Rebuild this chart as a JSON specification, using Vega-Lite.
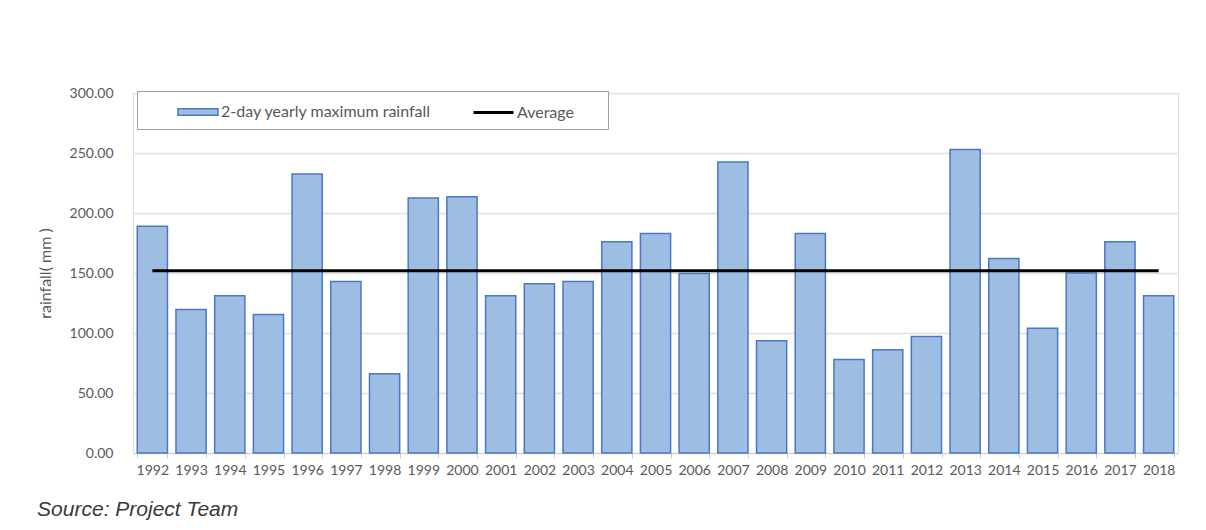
{
  "$schema": "https://vega.github.io/schema/vega-lite/v6.json",
  "autosize": {"type": "none"},
  "width": 1045,
  "height": 360,
  "padding": {"left": 133, "top": 93, "right": 28, "bottom": 77},
  "background": "white",
  "title": {
    "text": "Source: Project Team",
    "orient": "bottom",
    "anchor": "start",
    "frame": "bounds",
    "font": "Liberation Sans",
    "fontStyle": "italic",
    "fontWeight": "normal",
    "fontSize": 21,
    "color": "#3a3a3a",
    "offset": 22
  },
  "data": {
    "values": [
      {"year": "1992", "rainfall": 189},
      {"year": "1993", "rainfall": 119.5},
      {"year": "1994", "rainfall": 131},
      {"year": "1995", "rainfall": 115.5},
      {"year": "1996", "rainfall": 232.5},
      {"year": "1997", "rainfall": 143},
      {"year": "1998", "rainfall": 66},
      {"year": "1999", "rainfall": 212.5},
      {"year": "2000", "rainfall": 213.5},
      {"year": "2001", "rainfall": 131},
      {"year": "2002", "rainfall": 141},
      {"year": "2003", "rainfall": 143},
      {"year": "2004", "rainfall": 176},
      {"year": "2005", "rainfall": 183},
      {"year": "2006", "rainfall": 149.5},
      {"year": "2007", "rainfall": 242.5},
      {"year": "2008", "rainfall": 93.5},
      {"year": "2009", "rainfall": 183},
      {"year": "2010", "rainfall": 78},
      {"year": "2011", "rainfall": 86},
      {"year": "2012", "rainfall": 97},
      {"year": "2013", "rainfall": 253},
      {"year": "2014", "rainfall": 162},
      {"year": "2015", "rainfall": 104},
      {"year": "2016", "rainfall": 150},
      {"year": "2017", "rainfall": 176},
      {"year": "2018", "rainfall": 131}
    ]
  },
  "encoding": {
    "x": {
      "field": "year",
      "type": "ordinal",
      "scale": {"paddingInner": 0.22, "paddingOuter": 0.11},
      "axis": {
        "title": null,
        "labelAngle": 0,
        "labelFont": "Lato",
        "labelFontSize": 14,
        "labelColor": "#595959",
        "labelPadding": 5,
        "tickBand": "extent",
        "tickColor": "#d0d0d0",
        "tickSize": 5,
        "domainColor": "#d0d0d0",
        "grid": false
      }
    }
  },
  "layer": [
    {
      "mark": {"type": "bar", "stroke": "#4a78c4", "strokeWidth": 1.5},
      "encoding": {
        "y": {
          "field": "rainfall",
          "type": "quantitative",
          "scale": {"domain": [0, 300]},
          "axis": {
            "title": "rainfall( mm )",
            "titleFont": "Lato",
            "titleFontSize": 16,
            "titleFontWeight": "normal",
            "titleColor": "#595959",
            "titlePadding": 16,
            "values": [0, 50, 100, 150, 200, 250, 300],
            "format": ".2f",
            "labelFont": "Lato",
            "labelFontSize": 14,
            "labelColor": "#595959",
            "labelPadding": 20,
            "ticks": false,
            "domain": false,
            "gridColor": "#e0e0e0",
            "gridWidth": 1.5
          }
        },
        "fill": {
          "datum": "2-day yearly maximum rainfall",
          "type": "nominal",
          "scale": {"range": ["#9dbde2"]},
          "legend": {
            "title": " ",
            "titleOrient": "right",
            "titleFontSize": 46,
            "titlePadding": 177,
            "orient": "none",
            "legendX": 4,
            "legendY": -2,
            "padding": 0,
            "symbolOffset": 40,
            "labelFont": "Lato",
            "labelFontSize": 16,
            "labelColor": "#595959",
            "labelOffset": 2,
            "labelLimit": 400,
            "symbolSize": 1600,
            "symbolType": "M-1,-0.16H1V0.16H-1Z",
            "symbolStrokeColor": "#4a78c4",
            "symbolStrokeWidth": 1.5,
            "symbolOpacity": 1,
            "strokeColor": "#a0a0a0",
            "fillColor": "white",
            "zindex": 1
          }
        }
      }
    },
    {
      "mark": {"type": "line", "strokeWidth": 3},
      "transform": [
        {"joinaggregate": [{"op": "mean", "field": "rainfall", "as": "avg"}]}
      ],
      "encoding": {
        "y": {"field": "avg", "type": "quantitative"},
        "stroke": {
          "datum": "Average",
          "type": "nominal",
          "scale": {"range": ["#000000"]},
          "legend": {
            "title": null,
            "orient": "none",
            "legendX": 339,
            "legendY": -2,
            "padding": 0,
            "labelFont": "Lato",
            "labelFontSize": 16,
            "labelColor": "#595959",
            "labelOffset": 2,
            "symbolSize": 1600,
            "symbolType": "stroke",
            "symbolStrokeWidth": 3,
            "symbolOpacity": 1,
            "zindex": 2
          }
        }
      }
    }
  ]
}
